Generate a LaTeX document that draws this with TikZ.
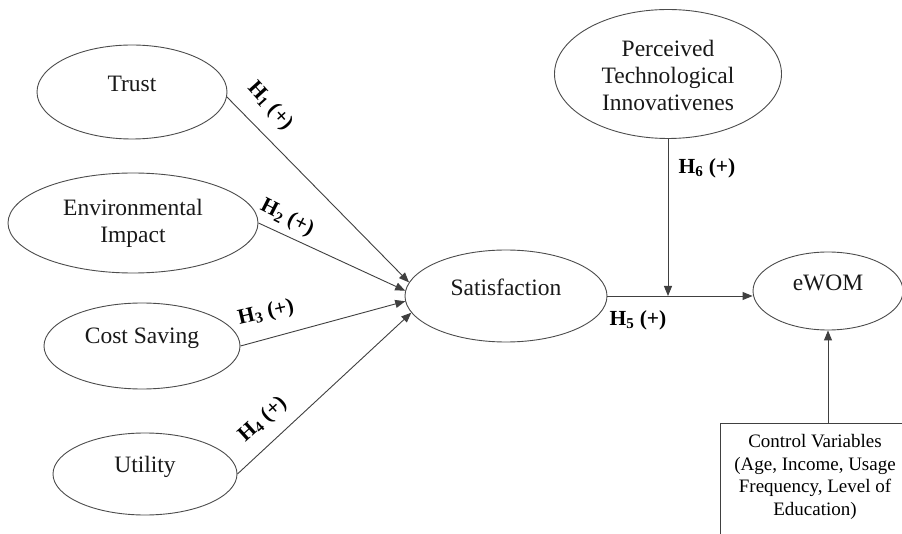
\documentclass[tikz,border=0pt]{standalone}
\usepackage{fontspec}
\setmainfont{Liberation Serif}
\usetikzlibrary{shapes.geometric,arrows.meta}
\begin{document}
\begin{tikzpicture}[x=1pt,y=-1pt,
  ell/.style={draw=black!70,line width=0.9pt,ellipse,inner sep=0pt},
  ltxt/.style={font=\fontsize{23.5}{27}\selectfont,align=center,text=black!90},
  hyp/.style={font=\fontsize{21.5}{24}\selectfont\bfseries},
  conn/.style={draw=black!75,line width=0.9pt,-{Triangle[length=10pt,width=8pt]}},
  plain/.style={draw=black!75,line width=0.9pt}]
\useasboundingbox (0,0) rectangle (902,534);
\clip (0,0) rectangle (902,534);
\fill[white] (0,0) rectangle (902,534);
% ellipses
\node[ell,minimum width=190pt,minimum height=94pt] (trust) at (132,92) {};
\node[ell,minimum width=250pt,minimum height=100pt] (env) at (133,223) {};
\node[ell,minimum width=196pt,minimum height=86pt] (cost) at (142,346) {};
\node[ell,minimum width=184pt,minimum height=82pt] (util) at (145,474) {};
\node[ell,minimum width=202pt,minimum height=92pt] (sat) at (506,296) {};
\node[ell,minimum width=227pt,minimum height=129pt] (pti) at (668,74) {};
\node[ell,minimum width=150pt,minimum height=78pt] (ewom) at (828,291) {};
% texts
\node[ltxt] (ttrust) at (132,84) {Trust};
\node[ltxt] (tenv) at (133,223) {Environmental\\Impact};
\node[ltxt] (tcost) at (142,338) {Cost Saving};
\node[ltxt] (tutil) at (145,467) {Utility};
\node[ltxt] (tsat) at (506,287) {Satisfaction};
\node[ltxt] (tpti) at (668,75) {Perceived\\Technological\\Innovativenes};
\node[ltxt] (tewom) at (828,283) {eWOM};
% control box
\node[draw=black!75,line width=0.9pt,minimum width=230pt,minimum height=140pt,anchor=north west,inner sep=0pt] (ctrl) at (720,423) {};
\node[font=\fontsize{19}{22.5}\selectfont,align=center] (tctrl) at (815,477) {Control Variables\\(Age, Income, Usage\\Frequency, Level of\\Education)};
% connectors
\draw[conn] (trust.-3) -- (sat.172);
\draw[conn] (env.east) -- (sat.177);
\draw[conn] (cost.east) -- (sat.183);
\draw[conn] (util.east) -- (sat.190);
\coordinate (ein) at (sat.east -| ewom.west);
\draw[conn] (sat.east) -- (ein);
\coordinate (junc) at (pti.south |- sat.east);
\draw[conn] (pti.south) -- (junc);
\coordinate (cin) at (ctrl.north -| ewom.south);
\draw[conn] (cin) -- (ewom.south);
% labels
\node[hyp,rotate=-48] (h1) at (270,106) {H\textsubscript{1} (+)};
\node[hyp,rotate=-27] (h2) at (287,218) {H\textsubscript{2} (+)};
\node[hyp,rotate=13] (h3) at (266,313) {H\textsubscript{3} (+)};
\node[hyp,rotate=42] (h4) at (263,420) {H\textsubscript{4} (+)};
\node[hyp] (h5) at (638,320) {H\textsubscript{5} (+)};
\node[hyp] (h6) at (707,168) {H\textsubscript{6} (+)};
\end{tikzpicture}
\end{document}
